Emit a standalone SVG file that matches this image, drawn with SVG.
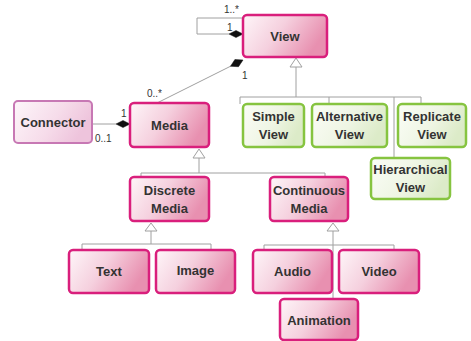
<svg xmlns="http://www.w3.org/2000/svg" width="471" height="341" viewBox="0 0 471 341">
<defs>
<linearGradient id="gp" x1="0" y1="0" x2="1" y2="0.35">
<stop offset="0" stop-color="#fef6f9"/>
<stop offset="0.5" stop-color="#f5d0de"/>
<stop offset="1" stop-color="#e890b0"/>
</linearGradient>
<linearGradient id="gg" x1="0" y1="0" x2="1" y2="0.35">
<stop offset="0" stop-color="#fbfdf7"/>
<stop offset="0.6" stop-color="#eef5e3"/>
<stop offset="1" stop-color="#dcebc8"/>
</linearGradient>
<linearGradient id="gc" x1="0" y1="0" x2="1" y2="0.35">
<stop offset="0" stop-color="#fdf6fa"/>
<stop offset="0.6" stop-color="#f6dcea"/>
<stop offset="1" stop-color="#eec4dc"/>
</linearGradient>
</defs>
<style>
.p{fill:url(#gp);stroke:#d91f7c;stroke-width:2.5}
.g{fill:url(#gg);stroke:#86c440;stroke-width:2.5}
.c{fill:url(#gc);stroke:#c778b4;stroke-width:2}
.t{font-family:"Liberation Sans",Arial,sans-serif;font-weight:bold;font-size:13px;fill:#333;text-anchor:middle}
.l{font-family:"Liberation Sans",Arial,sans-serif;font-size:10px;fill:#333}
.ln{fill:none;stroke:#a0a0a0;stroke-width:1}
.tri{fill:#fff;stroke:#a0a0a0;stroke-width:1}
.dia{fill:#111;stroke:#111;stroke-width:0.5}
</style>
<g id="connectors">
<polyline class="ln" points="243,18 197,18 197,34 229,34"/>
<polygon class="dia" points="229,34 236,30.5 243,34 236,37.5"/>
<line class="ln" x1="157" y1="103" x2="231" y2="66"/>
<polygon class="dia" points="230.5,66.3 234.9,59.5 243,60 238.5,66.7"/>
<line class="ln" x1="92" y1="124" x2="116" y2="124"/>
<polygon class="dia" points="116,124 123,120.5 130,124 123,127.5"/>
<polygon class="tri" points="296,58 290,67 302,67"/>
<polyline class="ln" points="296,67 296,97"/>
<polyline class="ln" points="240,104 240,97 421,97 421,104"/>
<line class="ln" x1="329" y1="97" x2="329" y2="104"/>
<line class="ln" x1="394" y1="97" x2="394" y2="158"/>
<polygon class="tri" points="199,149 193,158 205,158"/>
<line class="ln" x1="199" y1="158" x2="199" y2="173"/>
<polyline class="ln" points="141,177 141,173 325,173 325,177"/>
<polygon class="tri" points="151,223 145,231 157,231"/>
<line class="ln" x1="151" y1="231" x2="151" y2="244"/>
<polyline class="ln" points="82,250 82,244 211,244 211,250"/>
<polygon class="tri" points="333,223 327,231 339,231"/>
<line class="ln" x1="333" y1="231" x2="333" y2="299"/>
<polyline class="ln" points="264,250 264,245 394,245 394,250"/>
<text class="l" x="224" y="13">1..*</text>
<text class="l" x="227" y="31">1</text>
<text class="l" x="242" y="79">1</text>
<text class="l" x="147" y="97">0..*</text>
<text class="l" x="121" y="117">1</text>
<text class="l" x="95" y="142">0..1</text>
</g>
<g id="view"><rect class="p" x="243" y="15" width="84" height="42" rx="4"/><text class="t" x="285" y="41">View</text></g>
<g id="media"><rect class="p" x="130" y="103" width="79" height="44" rx="4"/><text class="t" x="169.5" y="130">Media</text></g>
<g id="connector"><rect class="c" x="14" y="101" width="78" height="42" rx="4"/><text class="t" x="53" y="127">Connector</text></g>
<g id="simple-view"><rect class="g" x="243" y="104" width="61" height="43" rx="4"/><text class="t" x="273.5" y="121">Simple</text><text class="t" x="273.5" y="139">View</text></g>
<g id="alternative-view"><rect class="g" x="312" y="104" width="75" height="43" rx="4"/><text class="t" x="349.5" y="121">Alternative</text><text class="t" x="349.5" y="139">View</text></g>
<g id="replicate-view"><rect class="g" x="398" y="104" width="68" height="43" rx="4"/><text class="t" x="432" y="121">Replicate</text><text class="t" x="432" y="139">View</text></g>
<g id="hierarchical-view"><rect class="g" x="371" y="158" width="79" height="41" rx="4"/><text class="t" x="410.5" y="174">Hierarchical</text><text class="t" x="410.5" y="192">View</text></g>
<g id="discrete-media"><rect class="p" x="130" y="177" width="79" height="44" rx="4"/><text class="t" x="169.5" y="195">Discrete</text><text class="t" x="169.5" y="213">Media</text></g>
<g id="continuous-media"><rect class="p" x="270" y="177" width="78" height="44" rx="4"/><text class="t" x="309" y="195">Continuous</text><text class="t" x="309" y="213">Media</text></g>
<g id="text"><rect class="p" x="69" y="250" width="80" height="43" rx="4"/><text class="t" x="109" y="276">Text</text></g>
<g id="image"><rect class="p" x="156" y="250" width="79" height="43" rx="4"/><text class="t" x="195.5" y="275">Image</text></g>
<g id="audio"><rect class="p" x="253" y="250" width="79" height="43" rx="4"/><text class="t" x="292.5" y="276">Audio</text></g>
<g id="video"><rect class="p" x="339" y="250" width="80" height="43" rx="4"/><text class="t" x="379" y="276">Video</text></g>
<g id="animation"><rect class="p" x="280" y="299" width="78" height="41" rx="4"/><text class="t" x="319" y="325">Animation</text></g>
</svg>
